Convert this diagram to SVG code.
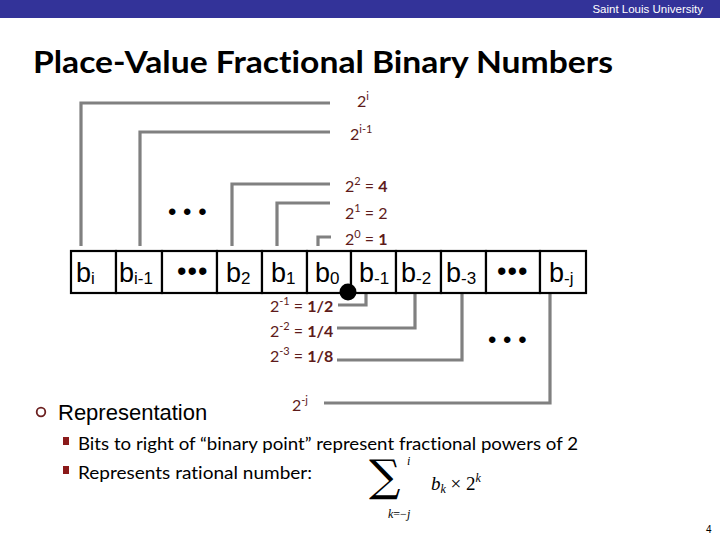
<svg xmlns="http://www.w3.org/2000/svg" width="720" height="540" viewBox="0 0 720 540">
<style>
.cal{font-family:Lato,"Open Sans","Liberation Sans",sans-serif;font-variant-ligatures:none}
.lbl{font-family:Lato,"Open Sans","Liberation Sans",sans-serif;font-size:16px;fill:#5e1b1b;font-variant-ligatures:none}
.sup{font-size:11px}
.b{font-weight:bold}
.cell{fill:#fff;stroke:#000;stroke-width:2.2}
.bit{font-family:"Liberation Sans",Arial,sans-serif;font-size:27px;fill:#000}
.sub{font-size:17px}
.conn{fill:none;stroke:#808080;stroke-width:3.2}
.dots{font-family:"Liberation Sans",Arial,sans-serif;font-size:24px;fill:#000}
</style>
<rect x="0" y="0" width="720" height="18" fill="#333399"/>
<text x="703" y="12.5" text-anchor="end" font-family="Liberation Sans,Arial,sans-serif" font-size="11.5" fill="#fff">Saint Louis University</text>
<text x="33" y="73" class="cal" font-size="31" font-weight="bold" fill="#000" textLength="580" lengthAdjust="spacingAndGlyphs">Place-Value Fractional Binary Numbers</text>

<g id="connectors">
<path class="conn" d="M81,246 V103 H330"/>
<path class="conn" d="M140,246 V132 H330"/>
<path class="conn" d="M232,246 V184 H330"/>
<path class="conn" d="M277,246 V203 H330"/>
<path class="conn" d="M318,246 V237 H331"/>
<path class="conn" d="M366,293 V305 H338"/>
<path class="conn" d="M415,293 V328 H337"/>
<path class="conn" d="M462,293 V360 H337"/>
<path class="conn" d="M550,293 V403 H324"/>
</g>

<g id="bits">
<rect class="cell" x="71" y="251" width="45" height="42"/>
<rect class="cell" x="116" y="251" width="46" height="42"/>
<rect class="cell" x="162" y="251" width="55" height="42"/>
<rect class="cell" x="217" y="251" width="45" height="42"/>
<rect class="cell" x="262" y="251" width="45" height="42"/>
<rect class="cell" x="307" y="251" width="44" height="42"/>
<rect class="cell" x="351" y="251" width="45" height="42"/>
<rect class="cell" x="396" y="251" width="45" height="42"/>
<rect class="cell" x="441" y="251" width="45" height="42"/>
<rect class="cell" x="486" y="251" width="54" height="42"/>
<rect class="cell" x="540" y="251" width="46" height="42"/>
</g>
<g id="bit-labels">
<text class="bit" x="76" y="282">b<tspan class="sub" dy="2">i</tspan></text>
<text class="bit" x="119" y="282">b<tspan class="sub" dy="2">i-1</tspan></text>
<text class="bit" x="177" y="280" font-size="17" letter-spacing="1">•••</text>
<text class="bit" x="226" y="282">b<tspan class="sub" dy="2">2</tspan></text>
<text class="bit" x="271" y="282">b<tspan class="sub" dy="2">1</tspan></text>
<text class="bit" x="315" y="282">b<tspan class="sub" dy="2">0</tspan></text>
<text class="bit" x="359" y="282">b<tspan class="sub" dy="2">-1</tspan></text>
<text class="bit" x="401" y="282">b<tspan class="sub" dy="2">-2</tspan></text>
<text class="bit" x="446" y="282">b<tspan class="sub" dy="2">-3</tspan></text>
<text class="bit" x="497" y="280" font-size="17" letter-spacing="1">•••</text>
<text class="bit" x="549" y="282">b<tspan class="sub" dy="2">-j</tspan></text>
</g>
<circle id="binary-point" cx="348" cy="292" r="8.5" fill="#000"/>

<g id="weights-high">
<text class="lbl" x="357" y="107">2<tspan class="sup" dy="-7">i</tspan></text>
<text class="lbl" x="350" y="140">2<tspan class="sup" dy="-7">i-1</tspan></text>
<text class="lbl" x="345" y="192">2<tspan class="sup" dy="-7">2</tspan><tspan dy="7"> = </tspan><tspan class="b">4</tspan></text>
<text class="lbl" x="345" y="219">2<tspan class="sup" dy="-7">1</tspan><tspan dy="7"> = 2</tspan></text>
<text class="lbl" x="345" y="245">2<tspan class="sup" dy="-7">0</tspan><tspan dy="7"> = </tspan><tspan class="b">1</tspan></text>
</g>
<g id="weights-low">
<text class="lbl" x="270" y="312">2<tspan class="sup" dy="-7">-1</tspan><tspan dy="7"> = </tspan><tspan class="b">1/2</tspan></text>
<text class="lbl" x="270" y="337">2<tspan class="sup" dy="-7">-2</tspan><tspan dy="7"> = </tspan><tspan class="b">1/4</tspan></text>
<text class="lbl" x="270" y="362">2<tspan class="sup" dy="-7">-3</tspan><tspan dy="7"> = </tspan><tspan class="b">1/8</tspan></text>
<text class="lbl" x="292" y="411">2<tspan class="sup" dy="-7">-j</tspan></text>
</g>
<text class="dots" x="168" y="220">• • •</text>
<text class="dots" x="488" y="348">• • •</text>

<g id="text-body">
<circle cx="41" cy="412" r="4.3" fill="none" stroke="#6b1f1f" stroke-width="1.8"/>
<text x="58" y="420" font-family="Liberation Sans,Arial,sans-serif" font-size="22" fill="#000">Representation</text>
<rect x="63" y="437" width="6" height="8" fill="#8b1a1a"/>
<text x="78" y="450" class="cal" font-size="17.5" fill="#000" textLength="500" lengthAdjust="spacingAndGlyphs">Bits to right of “binary point” represent fractional powers of 2</text>
<rect x="63" y="466" width="6" height="8" fill="#8b1a1a"/>
<text x="78" y="479" class="cal" font-size="17.5" fill="#000" textLength="234" lengthAdjust="spacingAndGlyphs">Represents rational number:</text>
<text x="407" y="465" font-family="Liberation Serif,serif" font-style="italic" font-size="12" fill="#000">i</text>
<text x="369" y="491" font-family="DejaVu Serif,Liberation Serif,serif" font-size="44" fill="#000">∑</text>
<text x="388" y="518" font-family="Liberation Serif,serif" font-style="italic" font-size="12" fill="#000">k<tspan font-style="normal">=−</tspan>j</text>
<text x="431" y="490" font-family="Liberation Serif,serif" font-size="19" fill="#000"><tspan font-style="italic">b</tspan><tspan font-style="italic" font-size="12" dy="3">k</tspan><tspan dy="-3"> × 2</tspan><tspan font-style="italic" font-size="12" dy="-8">k</tspan></text>
</g>
<text x="706" y="533" font-family="Liberation Sans,Arial,sans-serif" font-size="10" fill="#000">4</text>
</svg>
